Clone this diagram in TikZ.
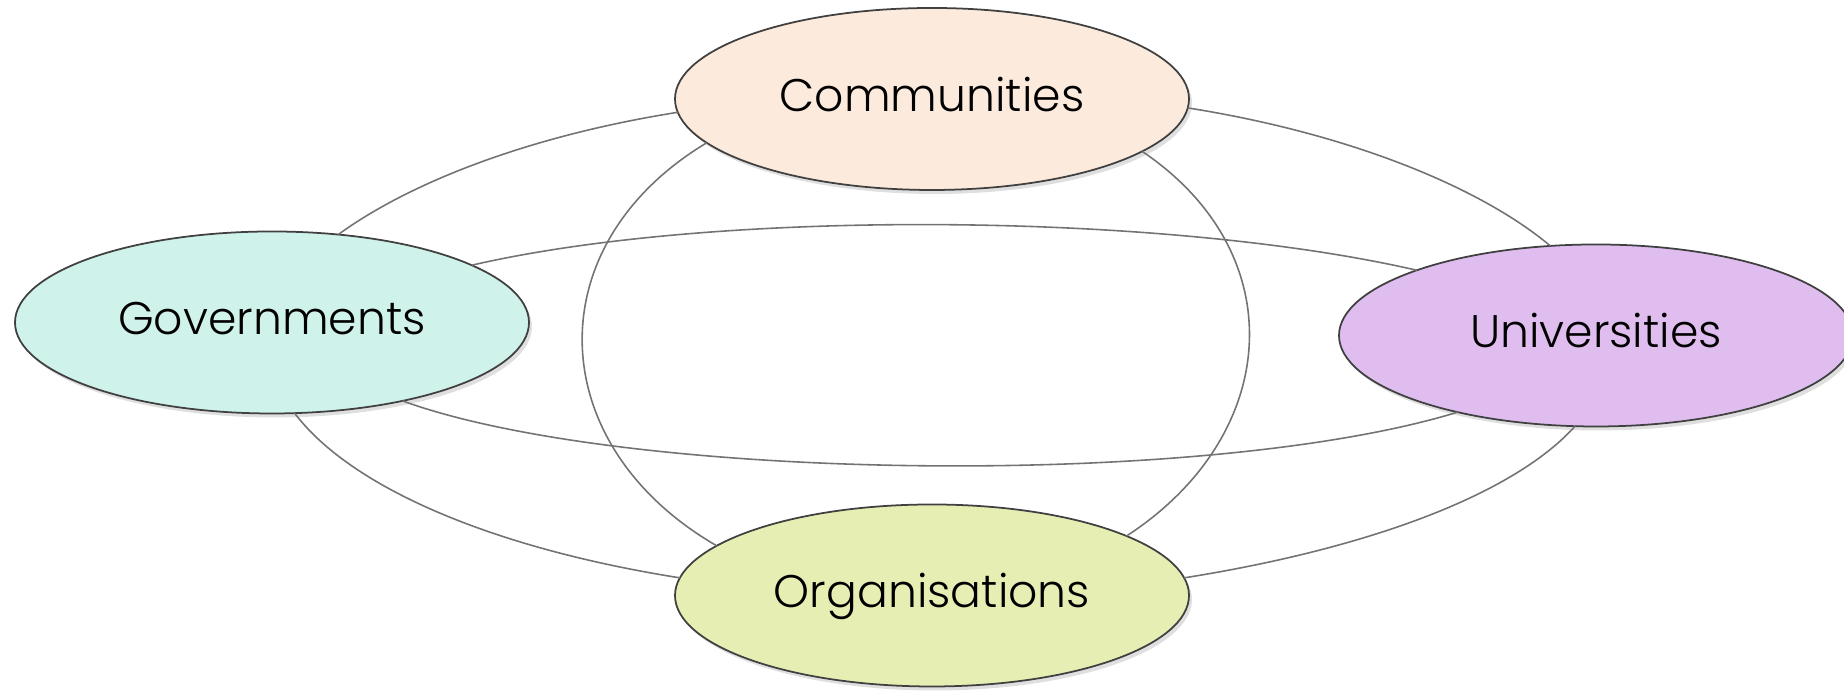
\documentclass[tikz,border=0pt]{standalone}
\usepackage{fontspec}
\setmainfont{Poppins}[UprightFont = * Light]
\usepackage{tikz}
\usepackage{xcolor}
\usetikzlibrary{shapes, shadows}
\definecolor{peach}{HTML}{FCEADC}
\definecolor{mint}{HTML}{CFF2EB}
\definecolor{lilac}{HTML}{DFBEEF}
\definecolor{lime}{HTML}{E7EEB4}
\colorlet{rimgrey}{black!75!white}
\colorlet{linkgrey}{black!55!white}

\tikzset{
    actor/.style = {draw = rimgrey, ellipse, line width = 0.5pt,
        minimum width = 5.14cm, minimum height = 1.82cm,
        inner sep = 0pt, outer sep = 0pt,
        font = \fontsize{13}{15}\selectfont,
        text height = 0.7em, text depth = 0pt,
        drop shadow = {shadow xshift = 0.03cm, shadow yshift = -0.04cm, opacity = 0.25}},
    link/.style = {draw = linkgrey, line width = 0.45pt}
}

\begin{document}
\begin{tikzpicture}%{{{
                \useasboundingbox (0, 0) rectangle (18.44, 6.91);

                \node (Com) [actor, fill = peach] at (9.32, 5.92) { Communities };
                \node (Gov) [actor, fill = mint] at (2.72, 3.685) { Governments };
                \node (Uni) [actor, fill = lilac] at (15.96, 3.555) { Universities };
                \node (Org) [actor, fill = lime] at (9.32, 0.955) { Organisations };

                % outer ring
                \draw [link] (Gov.53) to [out = 36, in = 189, out looseness = 0.64, in looseness = 1.05] (Com.183);
                \draw [link] (Com.358) to [out = -9, in = 140, out looseness = 1.07, in looseness = 0.61] (Uni.117);
                \draw [link] (Uni.257) to [out = 228, in = 9, out looseness = 0.57, in looseness = 1.12] (Org.4);
                \draw [link] (Org.176) to [out = 171, in = -53, out looseness = 1.18, in looseness = 0.56] (Gov.284);

                % flat ring
                \draw [link] (Gov.16) to [out = 13, in = 167, looseness = 0.69] (Uni.160);
                \draw [link] (Gov.329) to [out = -20, in = 197, out looseness = 0.57, in looseness = 0.64] (Uni.209);

                % tall ring
                \draw [link] (Com.191) to [out = 211, in = 150, looseness = 1.27] (Org.167);
                \draw [link] (Com.346) to [out = -34, in = 33, looseness = 1.22] (Org.17);
            \end{tikzpicture}
\end{document}
